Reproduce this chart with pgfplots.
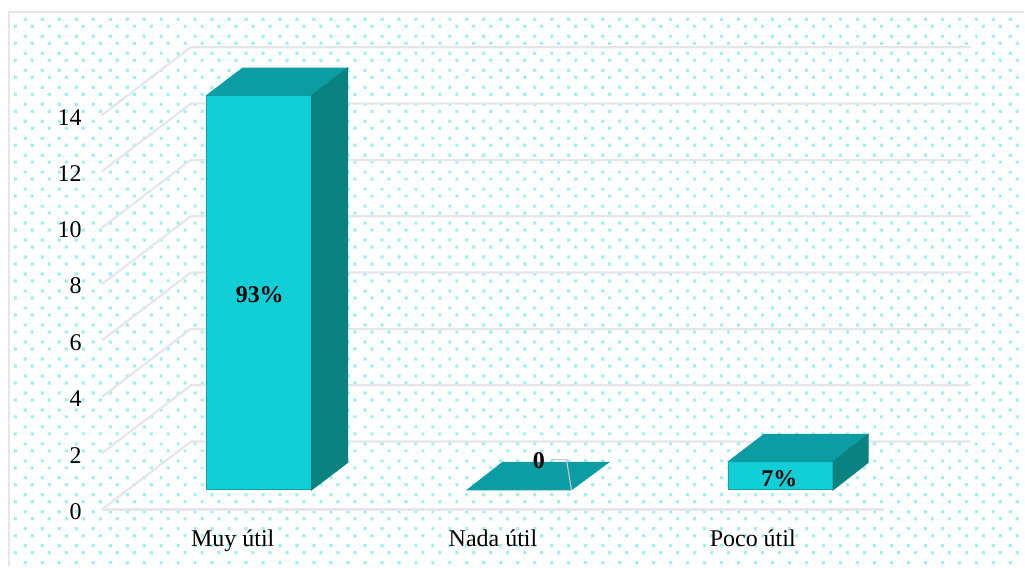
\documentclass[border=0pt]{standalone}
\usepackage{pgfplots}
\pgfplotsset{compat=1.18}
\usepackage{fontspec}
\setmainfont{Liberation Serif}
\definecolor{dotc}{HTML}{A5F0EA}
\definecolor{gridc}{HTML}{E4E6EC}
\definecolor{frontc}{HTML}{12CED6}
\definecolor{topc}{HTML}{0B9DA3}
\definecolor{sidec}{HTML}{098280}
\definecolor{edgec}{HTML}{0BA5AA}
\definecolor{leadc}{HTML}{C0C4CC}
\begin{document}
\begin{tikzpicture}[x=0.75pt,y=-0.75pt]
\path (0,0) rectangle (1025,567);
\begin{scope}
\clip (9,12) rectangle (1025,567);
\fill[dotc] \foreach \i in {0,...,59}{\foreach \j in {0,...,32}{
 (23.7+17*\i,17.7+17*\j) rectangle ++(3.2,3.2)
 (13.7+17*\i,24.7+17*\j) rectangle ++(3.2,3.2)}};
\end{scope}
\draw[gridc,line width=1.5pt] (9,567) -- (9,12) -- (1025,12);
\begin{axis}[
  at={(76.5pt,-382.5pt)}, anchor=south west,
  x=0.75pt, y=21.15pt,
  xmin=102, xmax=885, ymin=0, ymax=14,
  clip=false,
  axis lines=left,
  axis line style={draw=none},
  tick style={draw=none},
  major tick length=0pt,
  xtick={233,493.5,753.5},
  xticklabels={Muy útil,Nada útil,Poco útil},
  ytick={0,2,4,6,8,10,12,14},
  /pgf/number format/assume math mode=true,
  tick label style={font=\fontsize{18}{21}\selectfont},
  yticklabel style={anchor=east,inner sep=0pt,xshift=-15pt,yshift=-1.5pt},
  xticklabel style={anchor=base,inner sep=0pt,yshift=-27.5pt},
  every axis plot/.append style={forget plot},
]
% grid
\addplot[gridc,line width=1.7pt] coordinates {(102,0)(885,0)};
\addplot[gridc,line width=1.7pt] coordinates {(102,0)(191,2.41)(972,2.41)};
\addplot[gridc,line width=1.7pt] coordinates {(102,2)(191,4.41)(972,4.41)};
\addplot[gridc,line width=1.7pt] coordinates {(102,4)(191,6.41)(972,6.41)};
\addplot[gridc,line width=1.7pt] coordinates {(102,6)(191,8.41)(972,8.41)};
\addplot[gridc,line width=1.7pt] coordinates {(102,8)(191,10.41)(972,10.41)};
\addplot[gridc,line width=1.7pt] coordinates {(102,10)(191,12.41)(972,12.41)};
\addplot[gridc,line width=1.7pt] coordinates {(102,12)(191,14.41)(972,14.41)};
\addplot[gridc,line width=1.7pt] coordinates {(102,14)(191,16.41)(972,16.41)};
% Muy util = 14
\addplot[fill=frontc,draw=edgec,line width=0.9pt] coordinates {(207,0.70)(312,0.70)(312,14.70)(207,14.70)} --cycle;
\addplot[fill=topc,draw=topc,line width=0.75pt] coordinates {(207,14.70)(312,14.70)(348,15.67)(243,15.67)} --cycle;
\addplot[fill=sidec,draw=sidec,line width=0.75pt] coordinates {(312,0.70)(348,1.67)(348,15.67)(312,14.70)} --cycle;
% Nada util = 0
\addplot[fill=topc,draw=topc,line width=0.75pt] coordinates {(468,0.70)(572,0.70)(609,1.67)(503,1.67)} --cycle;
\addplot[leadc,line width=0.9pt] coordinates {(553,1.77)(567,1.77)(572,0.70)};
% Poco util = 1
\addplot[fill=frontc,draw=edgec,line width=0.9pt] coordinates {(729,0.70)(834,0.70)(834,1.70)(729,1.70)} --cycle;
\addplot[fill=topc,draw=topc,line width=0.75pt] coordinates {(729,1.70)(834,1.70)(869,2.67)(765,2.67)} --cycle;
\addplot[fill=sidec,draw=sidec,line width=0.75pt] coordinates {(834,0.70)(869,1.67)(869,2.67)(834,1.70)} --cycle;
% labels
\node[font=\fontsize{18}{21}\selectfont\bfseries] at (axis cs:260,7.62) {93\%};
\node[font=\fontsize{18}{21}\selectfont\bfseries] at (axis cs:539.5,1.74) {0};
\node[font=\fontsize{18}{21}\selectfont\bfseries] at (axis cs:780,1.09) {7\%};
\end{axis}
\end{tikzpicture}
\end{document}
